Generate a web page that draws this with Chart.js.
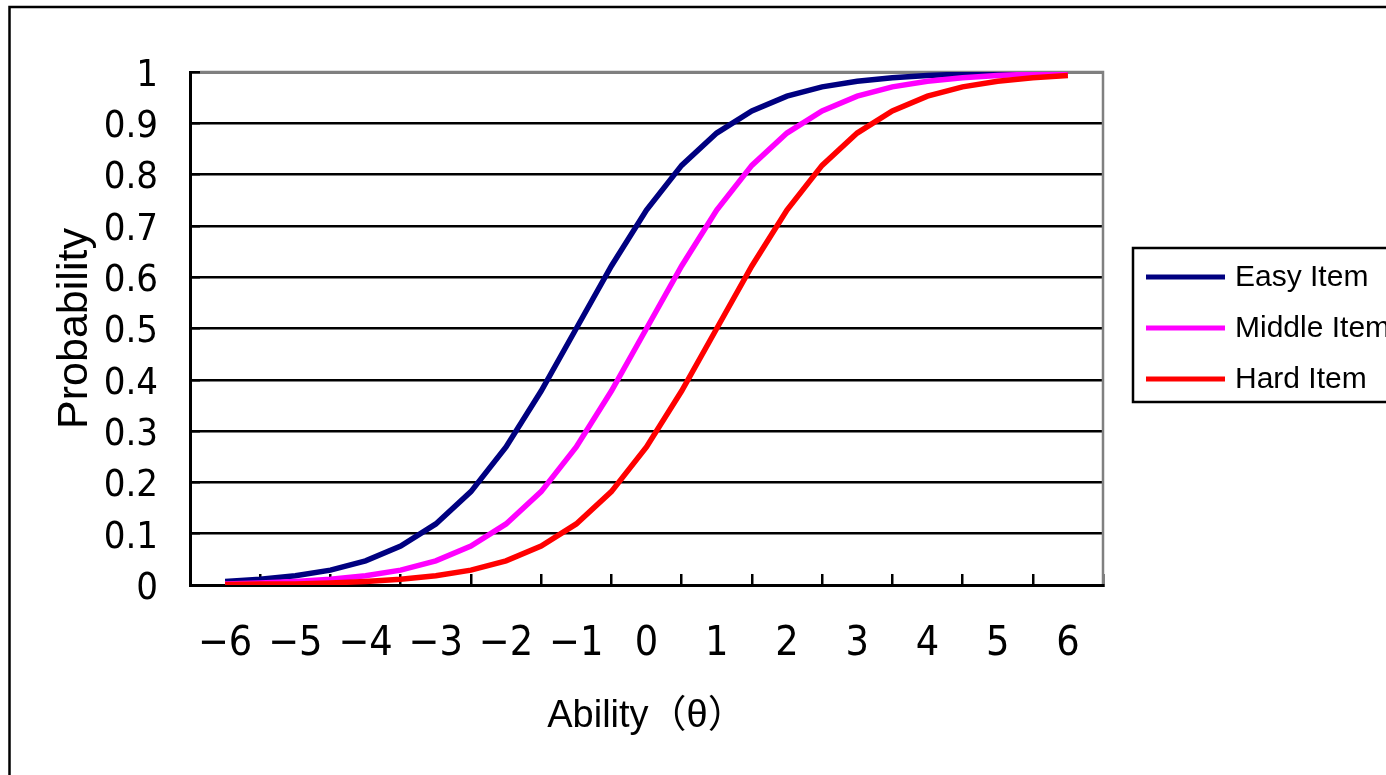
<!DOCTYPE html>
<html>
<head>
<meta charset="utf-8">
<script src="https://cdn.jsdelivr.net/npm/chart.js@4.4.1/dist/chart.umd.min.js"></script>
<style>
  html, body { margin: 0; padding: 0; background: #fff; overflow: hidden; }
  #wrap { position: absolute; left: 0; top: 0; width: 1420px; height: 800px; }
</style>
</head>
<body>
<div id="wrap"><canvas id="c" width="1420" height="800"></canvas></div>
<script>
// ---- data ----
const theta = [-6, -5.5, -5, -4.5, -4, -3.5, -3, -2.5, -2, -1.5, -1, -0.5, 0,
               0.5, 1, 1.5, 2, 2.5, 3, 3.5, 4, 4.5, 5, 5.5, 6];
const easyItem = [0.007, 0.011, 0.018, 0.029, 0.047, 0.076, 0.119, 0.182, 0.269, 0.378, 0.5, 0.622, 0.731,
                  0.818, 0.881, 0.924, 0.953, 0.971, 0.982, 0.989, 0.993, 0.996, 0.998, 0.998, 0.999];
const middleItem = [0.002, 0.004, 0.007, 0.011, 0.018, 0.029, 0.047, 0.076, 0.119, 0.182, 0.269, 0.378, 0.5,
                    0.622, 0.731, 0.818, 0.881, 0.924, 0.953, 0.971, 0.982, 0.989, 0.993, 0.996, 0.998];
const hardItem = [0.001, 0.002, 0.002, 0.004, 0.007, 0.011, 0.018, 0.029, 0.047, 0.076, 0.119, 0.182, 0.269,
                  0.378, 0.5, 0.622, 0.731, 0.818, 0.881, 0.924, 0.953, 0.971, 0.982, 0.989, 0.993];
const seriesNames = ['Easy Item', 'Middle Item', 'Hard Item'];
const xTickValues = [-6, -5, -4, -3, -2, -1, 0, 1, 2, 3, 4, 5, 6];
const yTickValues = [0, 0.1, 0.2, 0.3, 0.4, 0.5, 0.6, 0.7, 0.8, 0.9, 1];
const xTitle = 'Ability（θ）';
const yTitle = 'Probability';

// ---- styling ----
const NARROW = "'Liberation Sans Narrow', 'Arial Narrow', 'DejaVu Sans Condensed', sans-serif";
const REG = "'Liberation Sans', Arial, 'Noto Sans CJK JP', sans-serif";
const colors = ['#000080', '#FF00FF', '#FF0000'];

const CW = 1420, CH = 800;
const AREA = { left: 190, top: 72, right: 1103, bottom: 585 };
const PAD = { left: 10, top: AREA.top, right: CW - AREA.right, bottom: 10 };

const pts = arr => theta.map((t, i) => ({ x: t, y: arr[i] }));

const frame = {
  id: 'frame',
  beforeDraw(chart) {
    const ctx = chart.ctx;
    ctx.save();
    ctx.fillStyle = '#fff';
    ctx.fillRect(0, 0, chart.width, chart.height);
    ctx.strokeStyle = '#000';
    ctx.lineWidth = 2.5;
    ctx.strokeRect(9.5, 7, 1600, 1000);
    ctx.restore();
  },
  beforeDatasetsDraw(chart) {
    const { ctx, chartArea: a } = chart;
    ctx.save();
    ctx.strokeStyle = '#808080';
    ctx.lineWidth = 2.5;
    ctx.beginPath();
    ctx.moveTo(a.left + 10, a.top);
    ctx.lineTo(a.right, a.top);
    ctx.lineTo(a.right, a.bottom - 1);
    ctx.stroke();
    ctx.restore();
  },
  afterDraw(chart) {
    const ctx = chart.ctx;
    ctx.save();
    // legend box
    const bx = 1133, by = 248, bh = 154;
    ctx.strokeStyle = '#000';
    ctx.lineWidth = 2.5;
    ctx.strokeRect(bx, by, 600, bh);
    const rows = [277, 328, 379];
    chart.data.datasets.forEach((ds, i) => {
      ctx.strokeStyle = ds.borderColor;
      ctx.lineWidth = 5;
      ctx.beginPath();
      ctx.moveTo(1146, rows[i]);
      ctx.lineTo(1225, rows[i]);
      ctx.stroke();
      ctx.fillStyle = '#000';
      ctx.font = '30px ' + REG;
      ctx.textBaseline = 'middle';
      ctx.textAlign = 'left';
      ctx.fillText(ds.label, 1235, rows[i] + 1);
    });
    ctx.restore();
  }
};

const fmt = v => {
  const r = Math.round(v * 10) / 10;
  return r < 0 ? '−' + Math.abs(r) : String(r);
};

new Chart(document.getElementById('c'), {
  type: 'line',
  data: {
    datasets: [
      { label: seriesNames[0], data: pts(easyItem), borderColor: colors[0], order: 3 },
      { label: seriesNames[1], data: pts(middleItem), borderColor: colors[1], order: 2 },
      { label: seriesNames[2], data: pts(hardItem), borderColor: colors[2], order: 1 }
    ].map(d => Object.assign(d, { borderWidth: 5.5, pointRadius: 0, tension: 0, fill: false }))
  },
  options: {
    responsive: false,
    animation: false,
    devicePixelRatio: 1,
    layout: { padding: PAD },
    plugins: { legend: { display: false }, tooltip: { enabled: false } },
    scales: {
      x: {
        type: 'linear',
        min: -6.5,
        max: 6.5,
        afterBuildTicks: s => { s.ticks = xTickValues.map(v => ({ value: v })); },
        afterFit: s => { s.height = CH - PAD.bottom - AREA.bottom; },
        ticks: {
          autoSkip: false,
          maxRotation: 0,
          color: '#000',
          font: { family: NARROW, size: 41 },
          padding: 46,
          callback: v => fmt(v)
        },
        grid: {
          offset: true,
          drawOnChartArea: false,
          drawTicks: true,
          tickLength: -11,
          color: '#000',
          lineWidth: 2.5
        },
        border: { display: true, color: '#000', width: 3 },
        title: {
          display: true,
          text: xTitle,
          color: '#000',
          font: { family: REG, size: 38 },
          padding: { top: 0, bottom: 51 }
        }
      },
      y: {
        type: 'linear',
        min: 0,
        max: 1,
        afterBuildTicks: s => { s.ticks = yTickValues.map(v => ({ value: v })); },
        afterFit: s => { s.width = AREA.left - PAD.left; },
        ticks: {
          color: '#000',
          font: { family: NARROW, size: 38 },
          padding: 42,
          labelOffset: 4,
          callback: v => fmt(v)
        },
        grid: {
          color: '#000',
          lineWidth: 2.5,
          drawTicks: true,
          tickLength: -10
        },
        border: { display: true, color: '#000', width: 3 },
        title: {
          display: true,
          text: yTitle,
          color: '#000',
          font: { family: REG, size: 43 },
          padding: { top: 39, bottom: 0 }
        }
      }
    }
  },
  plugins: [frame]
});
</script>
</body>
</html>
